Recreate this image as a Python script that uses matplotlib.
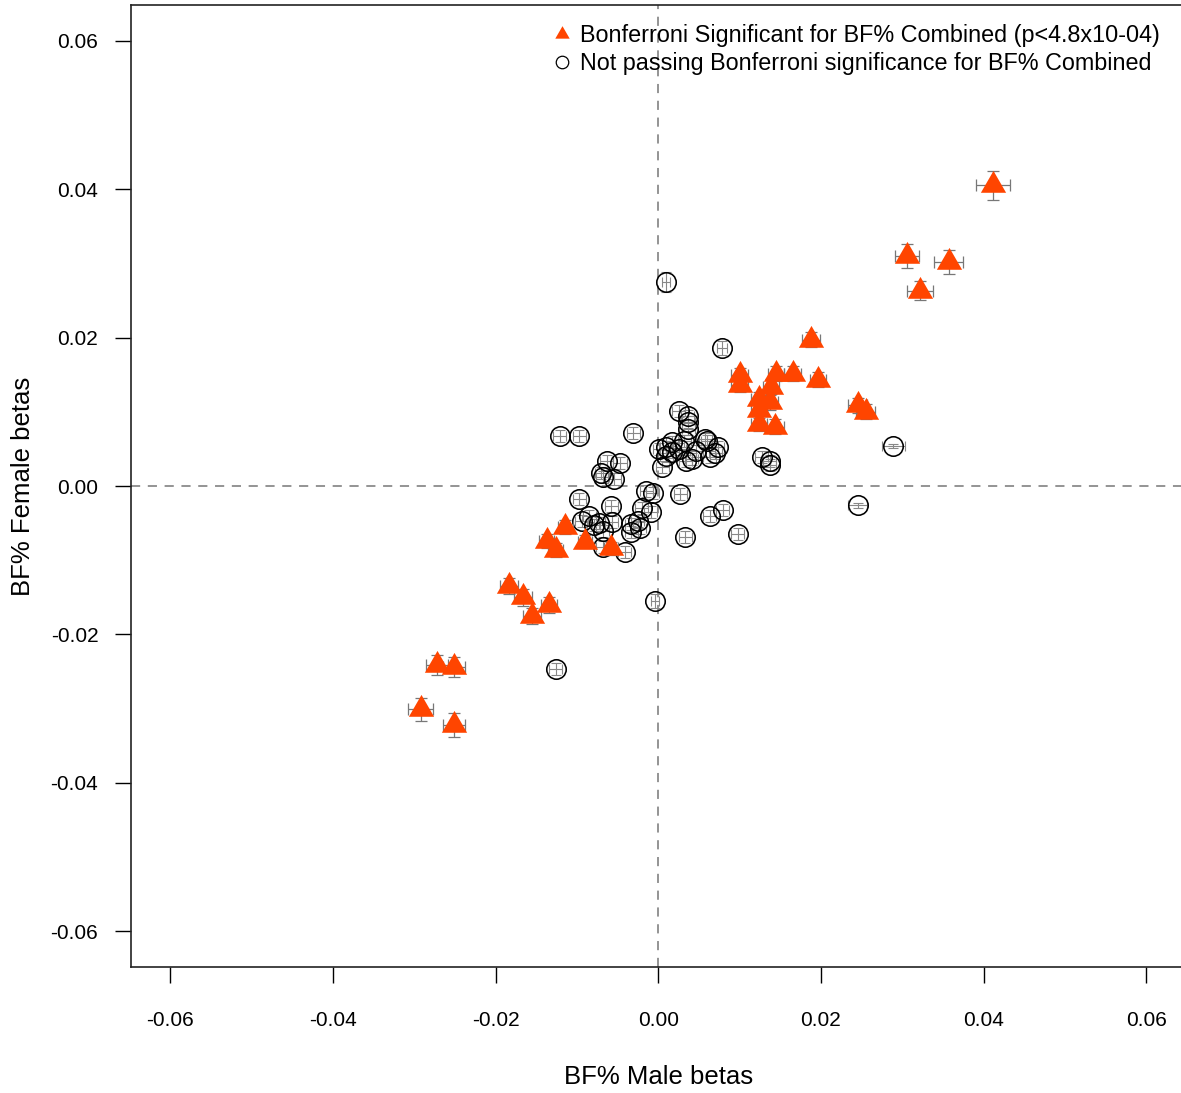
import matplotlib
matplotlib.use("Agg")
import matplotlib.pyplot as plt
from matplotlib.lines import Line2D
import numpy as np

plt.rcParams['font.family'] = ['Liberation Sans', 'DejaVu Sans']

# significant SNPs (male beta, female beta, male se, female se)
sig_male = [0.0411, 0.0306, 0.0357, 0.0322, 0.0188, 0.0100, 0.0100, 0.0145, 0.0165, 0.0196,
            0.0139, 0.0124, 0.0137, 0.0124, 0.0124, 0.0144, 0.0245, 0.0255,
            -0.0183, -0.0166, -0.0134, -0.0155, -0.0272, -0.0251, -0.0292, -0.0251,
            -0.0114, -0.0137, -0.0126, -0.0090, -0.0058]
sig_female = [0.0405, 0.0310, 0.0302, 0.0263, 0.0197, 0.0149, 0.0136, 0.0151, 0.0151, 0.0143,
              0.0134, 0.0117, 0.0113, 0.0102, 0.0084, 0.0080, 0.0109, 0.0100,
              -0.0135, -0.0150, -0.0160, -0.0175, -0.0241, -0.0244, -0.0301, -0.0322,
              -0.0055, -0.0074, -0.0086, -0.0075, -0.0084]
sig_male_se = [0.0021, 0.0015, 0.0018, 0.0016, 0.0011, 0.0010, 0.0010, 0.0010, 0.0010, 0.0010,
               0.0010, 0.0010, 0.0010, 0.0010, 0.0010, 0.0010, 0.0012, 0.0012,
               0.0011, 0.0011, 0.0010, 0.0011, 0.0013, 0.0013, 0.0015, 0.0013,
               0.0009, 0.0009, 0.0009, 0.0009, 0.0009]
sig_female_se = [0.0020, 0.0016, 0.0016, 0.0013, 0.0010, 0.0010, 0.0010, 0.0010, 0.0010, 0.0010,
                 0.0010, 0.0010, 0.0010, 0.0010, 0.0010, 0.0010, 0.0010, 0.0010,
                 0.0011, 0.0011, 0.0011, 0.0011, 0.0013, 0.0013, 0.0016, 0.0016,
                 0.0009, 0.0009, 0.0009, 0.0009, 0.0009]

# non significant SNPs
ns_male = [0.0010, 0.0078, -0.0031, 0.0025, 0.0036, 0.0037, 0.0037, 0.0017, 0.0010, 0.0017,
           0.0010, 0.0005, 0.0026, 0.0032, 0.0034, 0.0041, 0.0047, 0.0058, 0.0060, 0.0063,
           0.0073, 0.0070, 0.0127, 0.0137, 0.0137, 0.0289, 0.0245, 0.0001,
           -0.0121, -0.0097, -0.0063, -0.0047, -0.0070, -0.0068, -0.0054,
           -0.0015, -0.0007, -0.0097, -0.0058, -0.0020, -0.0009, -0.0094, -0.0085, -0.0079,
           -0.0073, -0.0068, -0.0057, -0.0033, -0.0025, -0.0023, -0.0033, -0.0068, -0.0041,
           0.0027, 0.0063, 0.0079, 0.0098, 0.0033, -0.0004, -0.0126]
ns_female = [0.0275, 0.0186, 0.0071, 0.0101, 0.0094, 0.0086, 0.0077, 0.0059, 0.0053, 0.0046,
             0.0040, 0.0026, 0.0050, 0.0061, 0.0034, 0.0036, 0.0047, 0.0063, 0.0061, 0.0039,
             0.0053, 0.0045, 0.0039, 0.0034, 0.0028, 0.0054, -0.0026, 0.0050,
             0.0067, 0.0067, 0.0034, 0.0031, 0.0018, 0.0012, 0.0009,
             -0.0007, -0.0009, -0.0018, -0.0027, -0.0030, -0.0035, -0.0047, -0.0040, -0.0053,
             -0.0050, -0.0061, -0.0049, -0.0051, -0.0047, -0.0057, -0.0062, -0.0082, -0.0089,
             -0.0011, -0.0040, -0.0032, -0.0065, -0.0069, -0.0155, -0.0247]
ns_male_se = [0.0005, 0.0006, 0.0008, 0.0008, 0.0008, 0.0008, 0.0008, 0.0008, 0.0008, 0.0008,
              0.0008, 0.0008, 0.0008, 0.0008, 0.0008, 0.0008, 0.0008, 0.0008, 0.0008, 0.0008,
              0.0008, 0.0008, 0.0008, 0.0008, 0.0008, 0.0014, 0.0012, 0.0008,
              0.0008, 0.0008, 0.0008, 0.0008, 0.0008, 0.0008, 0.0008,
              0.0008, 0.0008, 0.0008, 0.0008, 0.0008, 0.0008, 0.0008, 0.0008, 0.0008,
              0.0008, 0.0008, 0.0008, 0.0008, 0.0008, 0.0008, 0.0008, 0.0008, 0.0008,
              0.0008, 0.0008, 0.0008, 0.0008, 0.0008, 0.0005, 0.0008]
ns_female_se = [0.0013, 0.0009, 0.0008, 0.0008, 0.0008, 0.0008, 0.0008, 0.0008, 0.0008, 0.0008,
                0.0008, 0.0008, 0.0008, 0.0008, 0.0008, 0.0008, 0.0008, 0.0008, 0.0008, 0.0008,
                0.0008, 0.0008, 0.0008, 0.0008, 0.0008, 0.0003, 0.0003, 0.0008,
                0.0008, 0.0008, 0.0008, 0.0008, 0.0008, 0.0008, 0.0008,
                0.0008, 0.0008, 0.0008, 0.0008, 0.0008, 0.0008, 0.0008, 0.0008, 0.0008,
                0.0008, 0.0008, 0.0008, 0.0008, 0.0008, 0.0008, 0.0008, 0.0008, 0.0008,
                0.0008, 0.0008, 0.0008, 0.0008, 0.0008, 0.0009, 0.0008]

ticks = [-0.06, -0.04, -0.02, 0.00, 0.02, 0.04, 0.06]
tick_labels = ['-0.06', '-0.04', '-0.02', '0.00', '0.02', '0.04', '0.06']

ORANGE = '#FF4500'
tri = [(-1.0, -0.577), (1.0, -0.577), (0.0, 1.155), (-1.0, -0.577)]

fig = plt.figure(figsize=(11.81, 10.93), dpi=100)
ax = fig.add_axes([131 / 1181, 126 / 1093, (1185.5 - 131) / 1181, (1088 - 126) / 1093])

ax.axhline(0, color='#777777', lw=1.1, ls=(0, (6, 5)), zorder=1)
ax.axvline(0, color='#777777', lw=1.1, ls=(0, (6, 5)), zorder=1)

# error bars first, markers on top
ax.errorbar(ns_male, ns_female, xerr=ns_male_se, yerr=ns_female_se, fmt='none',
            ecolor='#888888', elinewidth=0.8, capsize=3.5, capthick=0.8, zorder=2)
ax.plot(ns_male, ns_female, 'o', ms=14, mfc='none', mec='black', mew=1.15, zorder=3)

ax.errorbar(sig_male, sig_female, xerr=sig_male_se, yerr=sig_female_se, fmt='none',
            ecolor='#777777', elinewidth=0.9, capsize=4, capthick=0.9, zorder=4)
ax.plot(sig_male, sig_female, ls='none', marker=tri, ms=21, mfc=ORANGE, mec='none', zorder=5)

ax.set_xlim(-0.0648, 0.0648)
ax.set_ylim(-0.0648, 0.0648)
ax.set_xticks(ticks)
ax.set_xticklabels(tick_labels)
ax.set_yticks(ticks)
ax.set_yticklabels(tick_labels)
ax.tick_params(direction='out', length=11.5, width=1.0, labelsize=15, pad=20)
ax.tick_params(axis='y', pad=12)
for s in ax.spines.values():
    s.set_linewidth(1.2)
    s.set_color('#222222')

ax.set_xlabel('BF% Male betas', fontsize=18.5)
ax.set_ylabel('BF% Female betas', fontsize=18.5)
ax.xaxis.set_label_coords(0.5, -(1077 - 967) / 962, transform=ax.transAxes)
ax.yaxis.set_label_coords(-(131 - 23) / 1054.5, 0.5, transform=ax.transAxes)
ax.xaxis.label.set_va('center')
ax.yaxis.label.set_va('center')

handles = [Line2D([], [], ls='none', marker=tri, ms=12, mfc=ORANGE, mec='none'),
           Line2D([], [], ls='none', marker='o', ms=9, mfc='none', mec='black', mew=0.9)]
ax.legend(handles, ['Bonferroni Significant for BF% Combined (p<4.8x10-04)',
                    'Not passing Bonferroni significance for BF% Combined'],
          loc='upper left', bbox_to_anchor=(553 / 1181, 1 - 24 / 1093),
          bbox_transform=fig.transFigure, frameon=False, fontsize=16.8,
          handlelength=0.8, handletextpad=0.37, borderpad=0, borderaxespad=0,
          labelspacing=0.22)

fig.savefig('out.png', dpi=100)
